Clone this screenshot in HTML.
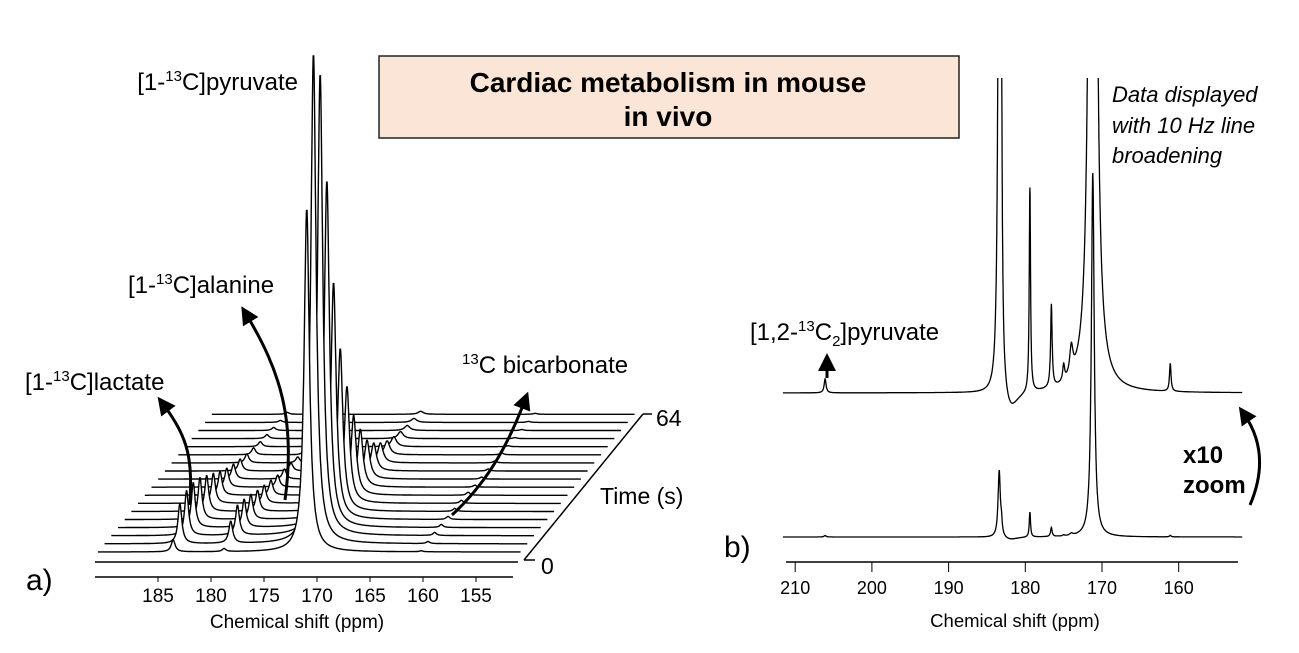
<!DOCTYPE html>
<html><head><meta charset="utf-8">
<style>
html,body{margin:0;padding:0;background:#fff;}
svg{display:block;font-family:"Liberation Sans",Arial,sans-serif;}
</style></head>
<body>
<svg id="fig" width="1299" height="653" viewBox="0 0 1299 653">
 <defs>
  <marker id="ah" markerWidth="6" markerHeight="6" refX="3" refY="3" orient="auto" markerUnits="strokeWidth">
   <path d="M0,0 L6,3 L0,6 z" fill="#000"/>
  </marker>
  <clipPath id="rclip"><rect x="700" y="78" width="600" height="500"/></clipPath>
 </defs>
 <rect width="1299" height="653" fill="#fff"/>
 <g id="left"></g>
 <g id="right"></g>

 <!-- title box -->
 <rect x="379" y="56" width="580" height="82" fill="#fbe5d6" stroke="#222" stroke-width="1.5"/>
 <text x="668" y="92" font-size="28" font-weight="bold" text-anchor="middle">Cardiac metabolism in mouse</text>
 <text x="668" y="126" font-size="28" font-weight="bold" text-anchor="middle">in vivo</text>

 <!-- left labels -->
 <text x="298" y="90" font-size="24" text-anchor="end">[1-<tspan font-size="15" dy="-9">13</tspan><tspan dy="9">C]pyruvate</tspan></text>
 <text x="128" y="293" font-size="24">[1-<tspan font-size="15" dy="-9">13</tspan><tspan dy="9">C]alanine</tspan></text>
 <text x="25" y="390" font-size="24">[1-<tspan font-size="15" dy="-9">13</tspan><tspan dy="9">C]lactate</tspan></text>
 <text x="462" y="373" font-size="24"><tspan font-size="15" dy="-9">13</tspan><tspan dy="9">C bicarbonate</tspan></text>
 <text x="26" y="590" font-size="30">a)</text>
 <text x="600" y="504" font-size="23">Time (s)</text>
 <text x="656" y="426" font-size="23">64</text>
 <text x="541" y="574" font-size="23">0</text>
 <line x1="524" y1="560" x2="643" y2="414" stroke="#000" stroke-width="1.5"/>
 <line x1="524" y1="560" x2="535" y2="560" stroke="#000" stroke-width="1.5"/>
 <line x1="643" y1="414" x2="652" y2="414" stroke="#000" stroke-width="1.5"/>
 <text x="297" y="628" font-size="19" text-anchor="middle">Chemical shift (ppm)</text>

 <!-- right labels -->
 <text x="1112" y="102" font-size="22" font-style="italic">Data displayed</text>
 <text x="1112" y="133" font-size="22" font-style="italic">with 10 Hz line</text>
 <text x="1112" y="163" font-size="22" font-style="italic">broadening</text>
 <text x="750" y="340" font-size="24">[1,2-<tspan font-size="15" dy="-9">13</tspan><tspan dy="9">C</tspan><tspan font-size="15" dy="6">2</tspan><tspan dy="-6">]pyruvate</tspan></text>
 <text x="1183" y="463" font-size="24" font-weight="bold">x10</text>
 <text x="1183" y="493" font-size="24" font-weight="bold">zoom</text>
 <text x="724" y="557" font-size="30">b)</text>
 <text x="1015" y="627" font-size="18.5" text-anchor="middle">Chemical shift (ppm)</text>

 <!-- arrows -->
 <path d="M190,505 C192,460 190,440 163,404" fill="none" stroke="#000" stroke-width="3" marker-end="url(#ah)"/>
 <path d="M285,500 C296,420 280,370 246,314" fill="none" stroke="#000" stroke-width="3" marker-end="url(#ah)"/>
 <path d="M452,515 C490,480 510,440 525,400" fill="none" stroke="#000" stroke-width="3" marker-end="url(#ah)"/>
 <path d="M827,378 L827,362" fill="none" stroke="#000" stroke-width="3" marker-end="url(#ah)"/>
 <path d="M1250,505 C1265,470 1262,440 1244,414" fill="none" stroke="#000" stroke-width="3" marker-end="url(#ah)"/>
</svg>
<script>
// ---------- LEFT: waterfall data (one value per time point, 18 spectra) ----------
const leftPeakPpm = [171.6, 184.2, 179.4, 160.8];
const pyruvateHeights = [343,490,462,347,237,163,117,80,58,39,28,20,14,10,7,5,4,3];
const lactateHeights  = [12,40,45,45,42,36,30,24,19,15,12,9,7,5,4,3,2,2];
const alanineHeights  = [3,22,30,28,25,21,18,15,12,10,8,6,5,4,3,2,2,1];
const bicarbHeights   = [1,2,3,3,3,3,3,3,2,2,2,2,2,1,1,1,1,1];
const leftTicks = [185,180,175,170,165,160,155];

// ---------- RIGHT: spectra data ----------
const rightPeakPpm    = [183.4, 183.1, 179.4, 176.6, 174.0, 175.0, 171.2, 161.1, 206.1, 182.0];
const rightPeakWidth  = [0.18, 0.1, 0.1, 0.12, 0.25, 0.15, 0.22, 0.12, 0.15, 1.2];
const lowerHeights    = [67, 10, 25, 9, 2, 1, 364, 1.5, 1.5, -3];
const upperHeights    = [670, 200, 205, 83, 28, 16, 3640, 28, 14, -22];
const rightTicks = [210,200,190,180,170,160];

const NS='http://www.w3.org/2000/svg';
function mk(tag, attrs, parent){const e=document.createElementNS(NS,tag);for(const k in attrs)e.setAttribute(k,attrs[k]);parent.appendChild(e);return e;}
function lor(x,x0,w){return 1/(1+((x-x0)/w)*((x-x0)/w));}

// Left axes
const L = document.getElementById('left');
const lx = p => 317 + (170 - p) * 10.6;
const base0 = 552, dyT = 8.1, dxT = 6.7;
let ax = mk('line',{x1:95,y1:577,x2:513,y2:577,stroke:'#000','stroke-width':1.5},L);


leftTicks.forEach(t=>{
  const tl=mk('line',{x1:lx(t),y1:577,x2:lx(t),y2:582,stroke:'#000','stroke-width':1},L);
  
  
  const tx=mk('text',{x:lx(t),y:602,'font-size':19,'text-anchor':'middle'},L);
  tx.textContent=t;
  
  
});
const N = pyruvateHeights.length;
for(let i=N;i>=1;i--){
  const ox = dxT*i, by = base0 - dyT*(i-1);
  const hs=[pyruvateHeights[i-1],lactateHeights[i-1],alanineHeights[i-1],bicarbHeights[i-1]];
  const ws=[0.3,0.22,0.22,0.2];
  let pts=[];
  for(let p=191.3;p>=151.4;p-=0.04){
    let y=0; for(let k=0;k<4;k++) y+=hs[k]*lor(p,leftPeakPpm[k],ws[k]);
    pts.push((lx(p)+ox).toFixed(1)+','+(by-y).toFixed(1));
  }
  const x0=(lx(191.3)+ox).toFixed(1), x1=(lx(151.4)+ox).toFixed(1);
  const poly=mk('polygon',{points:x0+','+(by+9)+' '+pts.join(' ')+' '+x1+','+(by+9),fill:'#fff',stroke:'none'},L);
  
  
  const pl=mk('polyline',{points:pts.join(' '),fill:'none',stroke:'#000','stroke-width':1.4},L);
  
  
}
const front=mk('line',{x1:95,y1:562,x2:518,y2:562,stroke:'#000','stroke-width':1.5},L);



// Right plot
const R = document.getElementById('right');
const rx = p => 1102 + (170 - p) * 7.67;
let rax = mk('line',{x1:786,y1:562,x2:1238,y2:562,stroke:'#000','stroke-width':1.5},R);


rightTicks.forEach(t=>{
  const tl=mk('line',{x1:rx(t),y1:562,x2:rx(t),y2:572,stroke:'#000','stroke-width':1},R);
  
  
  const tx=mk('text',{x:rx(t),y:594,'font-size':18,'text-anchor':'middle'},R);
  tx.textContent=t;
  
  
});
function spectrum(heights, by, name){
  let pts=[];
  for(let p=211.6;p>=151.7;p-=0.02){
    let y=0; for(let k=0;k<heights.length;k++) y+=heights[k]*lor(p,rightPeakPpm[k],rightPeakWidth[k]);
    let yy=Math.max(by-y,60);
    pts.push(rx(p).toFixed(1)+','+yy.toFixed(1));
  }
  const pl=mk('polyline',{points:pts.join(' '),fill:'none',stroke:'#000','stroke-width':1.3,'clip-path':'url(#rclip)'},R);
  
  
}
spectrum(lowerHeights, 537, 'spectrum-full-scale');
spectrum(upperHeights, 393, 'spectrum-x10-zoom');
</script>
</body></html>
